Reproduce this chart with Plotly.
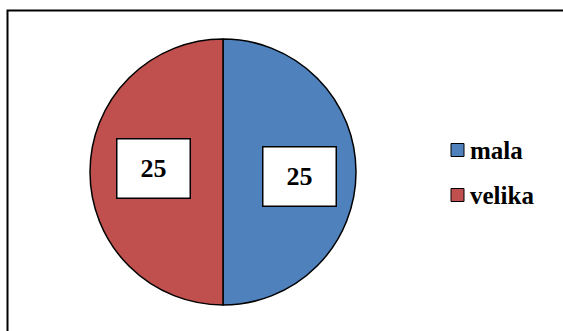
import plotly.graph_objects as go

labels = ["mala", "velika"]
values = [25, 25]
colors = ["#4F81BD", "#C0504D"]

W, H = 563, 331
SERIF = "Liberation Serif"

# pie geometry in pixels (center 223,172, radius 133)
cx, cy, r = 223, 172, 133

fig = go.Figure(go.Pie(
    labels=labels, values=values, sort=False, direction="clockwise", rotation=0,
    marker=dict(colors=colors, line=dict(color="black", width=1.5)),
    textinfo="none", hoverinfo="label+value", showlegend=False,
    domain=dict(x=[(cx - r) / W, (cx + r) / W], y=[1 - (cy + r) / H, 1 - (cy - r) / H]),
))

# value boxes
box_pos = [(299, 176.5), (154, 168.5)]
for v, (bx, by) in zip(values, box_pos):
    fig.add_annotation(
        x=bx / W, y=1 - by / H, xref="paper", yref="paper", showarrow=False,
        xanchor="center", yanchor="middle",
        text=f"<b>{v}</b>", font=dict(family=SERIF, size=26, color="black"),
        bgcolor="white", bordercolor="black", borderwidth=1.5, borderpad=0,
        width=72, height=58,
    )

# legend drawn by hand
leg_y = [150, 195]
for lab, col, ly in zip(labels, colors, leg_y):
    fig.add_shape(type="rect", xref="paper", yref="paper",
                  x0=451 / W, x1=464 / W, y0=1 - (ly + 6.5) / H, y1=1 - (ly - 6.5) / H,
                  fillcolor=col, line=dict(color="black", width=1))
    fig.add_annotation(x=468 / W, y=1 - ly / H, xref="paper", yref="paper", showarrow=False,
                       xanchor="left", yanchor="middle", text=f"<b>{lab}</b>",
                       font=dict(family=SERIF, size=25, color="black"))

# chart frame
fig.add_shape(type="rect", xref="paper", yref="paper",
              x0=7.5 / W, x1=1.05, y0=-0.05, y1=1 - 10.5 / H,
              line=dict(color="black", width=2), fillcolor="rgba(0,0,0,0)")

fig.update_layout(
    width=W, height=H,
    margin=dict(l=0, r=0, t=0, b=0),
    paper_bgcolor="white", plot_bgcolor="white",
)

fig.write_html("out.html", config={"displayModeBar": False},
               post_script="document.body.style.margin='0';")
